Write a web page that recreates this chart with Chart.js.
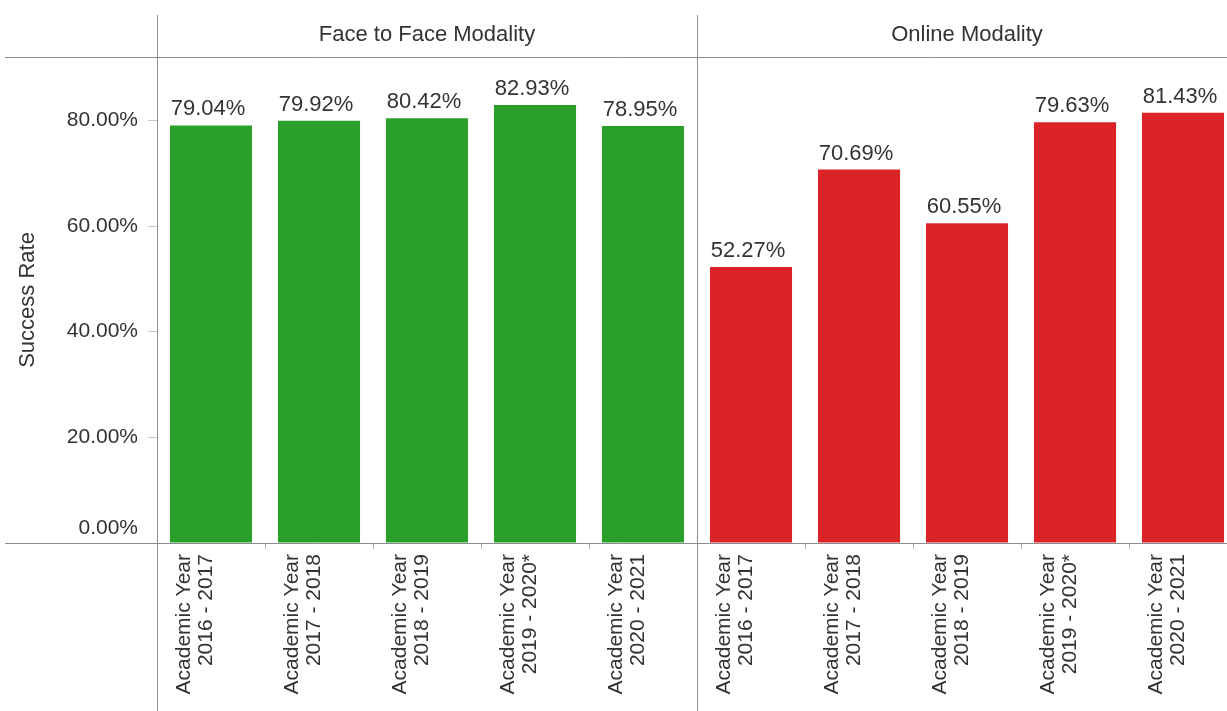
<!DOCTYPE html>
<html lang="en">
<head>
    <meta charset="UTF-8" />
    <title>Success Rate by Modality</title>
    <script src="https://cdn.jsdelivr.net/npm/chart.js"></script>
    <style>
        body { margin: 0; background: #fff; overflow: hidden; }
        .wrap { width: 1227px; height: 711px; overflow: hidden; }
    </style>
</head>
<body>
    <div class="wrap">
        <canvas id="myChart" width="1240" height="711"></canvas>
    </div>
<script>
    // dados
    var panelNames = ["Face to Face Modality", "Online Modality"];
    var academicYears = ["2016 - 2017", "2017 - 2018", "2018 - 2019", "2019 - 2020*", "2020 - 2021"];
    var faceToFaceRates = [79.04, 79.92, 80.42, 82.93, 78.95];
    var onlineRates = [52.27, 70.69, 60.55, 79.63, 81.43];
    var yTicks = [0, 20, 40, 60, 80];

    var corVerde = "#2a9f2a";
    var corVermelha = "#dc2327";
    var corTexto = "#333333";
    var corLinha = "#8c8c8c";
    var fonte = "'Liberation Sans', Arial, sans-serif";

    var labels = [];
    var valores = [];
    var cores = [];
    for (var i = 0; i < academicYears.length; i++) {
        labels.push(["Academic Year", academicYears[i]]);
        valores.push(faceToFaceRates[i]);
        cores.push(corVerde);
    }
    for (var i = 0; i < academicYears.length; i++) {
        labels.push(["Academic Year", academicYears[i]]);
        valores.push(onlineRates[i]);
        cores.push(corVermelha);
    }

    function formatarPct(v) {
        return v.toFixed(2) + "%";
    }

    // linhas do quadro, titulos dos paineis e o rotulo 0.00% (fica acima do eixo)
    const moldura = {
        id: "moldura",
        afterDraw(chart) {
            const ctx = chart.ctx;
            const area = chart.chartArea;
            const x = chart.scales.x;
            const y = chart.scales.y;
            const n = academicYears.length;
            const divisor = (x.getPixelForValue(n - 1) + x.getPixelForValue(n)) / 2;
            const esquerda = area.left;
            const direita = area.right;

            ctx.save();
            ctx.strokeStyle = corLinha;
            ctx.lineWidth = 1;
            ctx.beginPath();
            ctx.moveTo(5, Math.round(area.top) + 0.5);
            ctx.lineTo(chart.width, Math.round(area.top) + 0.5);
            ctx.moveTo(5, Math.round(area.bottom) + 0.5);
            ctx.lineTo(chart.width, Math.round(area.bottom) + 0.5);
            ctx.moveTo(Math.round(esquerda) + 0.5, 15);
            ctx.lineTo(Math.round(esquerda) + 0.5, chart.height);
            ctx.moveTo(Math.round(divisor) + 0.5, 15);
            ctx.lineTo(Math.round(divisor) + 0.5, chart.height);
            ctx.stroke();

            ctx.fillStyle = corTexto;
            ctx.font = "22px " + fonte;
            ctx.textAlign = "center";
            ctx.textBaseline = "middle";
            ctx.fillText(panelNames[0], (esquerda + divisor) / 2, 35);
            ctx.fillText(panelNames[1], (divisor + direita) / 2, 35);

            ctx.font = "21px " + fonte;
            ctx.textAlign = "right";
            ctx.fillText(formatarPct(yTicks[0]), esquerda - 19, y.getPixelForValue(yTicks[0]) - 15);
            ctx.restore();
        }
    };

    // rotulos de valor acima das barras
    const rotulos = {
        id: "rotulos",
        afterDatasetsDraw(chart) {
            const ctx = chart.ctx;
            const meta = chart.getDatasetMeta(0);
            ctx.save();
            ctx.fillStyle = corTexto;
            ctx.font = "22px " + fonte;
            ctx.textAlign = "center";
            ctx.textBaseline = "alphabetic";
            meta.data.forEach(function (bar, idx) {
                ctx.fillText(formatarPct(valores[idx]), bar.x - 3, bar.y - 10);
            });
            ctx.restore();
        }
    };

    const ctx = document.getElementById("myChart");
    new Chart(ctx, {
        type: "bar",
        data: {
            labels: labels,
            datasets: [
                {
                    label: "Success Rate",
                    data: valores,
                    backgroundColor: cores,
                    borderWidth: 0,
                    categoryPercentage: 1,
                    barPercentage: 0.76,
                },
            ],
        },
        options: {
            responsive: false,
            animation: false,
            layout: {
                padding: { top: 57, right: 3, left: 0, bottom: 0 },
            },
            plugins: {
                legend: { display: false },
                tooltip: { enabled: false },
            },
            scales: {
                x: {
                    border: { display: false },
                    grid: {
                        drawOnChartArea: false,
                        drawTicks: true,
                        tickLength: 6,
                        color: "#a9b4c6",
                    },
                    ticks: {
                        minRotation: 90,
                        maxRotation: 90,
                        autoSkip: false,
                        padding: 5,
                        labelOffset: -27,
                        color: corTexto,
                        font: { family: fonte, size: 21, lineHeight: 1.05 },
                    },
                    afterFit(scale) {
                        scale.height = 168;
                    },
                },
                y: {
                    min: 0,
                    max: 92,
                    border: { display: false },
                    grid: {
                        drawOnChartArea: false,
                        drawTicks: true,
                        tickLength: 9,
                        color: function (c) {
                            return c.tick && c.tick.value === 0 ? "rgba(0,0,0,0)" : "#c4c4c4";
                        },
                    },
                    ticks: {
                        stepSize: 20,
                        padding: 10,
                        color: corTexto,
                        font: { family: fonte, size: 21 },
                        callback: function (v) {
                            return v === 0 ? "" : formatarPct(v);
                        },
                    },
                    afterBuildTicks(scale) {
                        scale.ticks = yTicks.map(function (v) {
                            return { value: v };
                        });
                    },
                    title: {
                        display: true,
                        text: "Success Rate",
                        color: corTexto,
                        font: { family: fonte, size: 22 },
                        padding: { top: 15, bottom: 0 },
                    },
                    afterFit(scale) {
                        scale.width = 157;
                    },
                },
            },
        },
        plugins: [moldura, rotulos],
    });
</script>
</body>
</html>
